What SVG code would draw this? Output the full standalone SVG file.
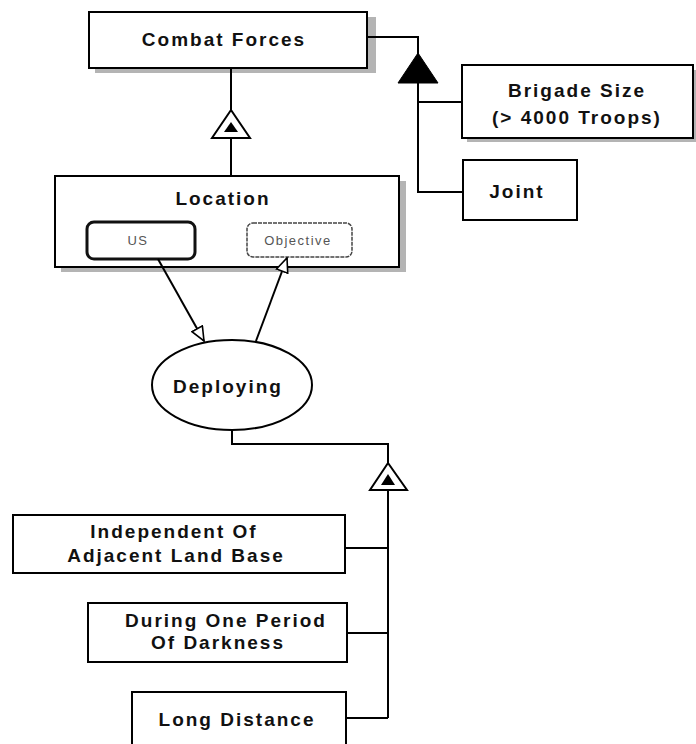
<svg xmlns="http://www.w3.org/2000/svg" width="696" height="744" viewBox="0 0 696 744">
<defs>
<style>
.box{fill:#fff;stroke:#000;stroke-width:2}
.shadow{fill:#b4b4b4}
.line{fill:none;stroke:#000;stroke-width:2}
.t{font-family:"Liberation Sans",Arial,sans-serif;font-size:19px;font-weight:bold;letter-spacing:2px;fill:#111;text-anchor:middle}
.s{font-family:"Liberation Sans",Arial,sans-serif;font-size:13px;letter-spacing:1.5px;fill:#555;text-anchor:middle}
.tri{fill:#fff;stroke:#000;stroke-width:2}
.in{fill:#000}
</style>
<marker id="hollow" viewBox="0 0 16 14" refX="15" refY="7" markerWidth="16" markerHeight="14" markerUnits="userSpaceOnUse" orient="auto">
<path d="M1,1 L15,7 L1,13 Z" fill="#fff" stroke="#000" stroke-width="1.6"/>
</marker>
</defs>
<rect width="696" height="744" fill="#fff"/>

<g id="combat-forces">
<rect class="shadow" x="95" y="17" width="281" height="56"/>
<rect class="box" x="89" y="12" width="278" height="56"/>
<text class="t" x="224" y="46">Combat Forces</text>
</g>

<g id="brigade-size">
<rect class="shadow" x="467" y="70" width="232" height="72"/>
<rect class="box" x="462" y="65" width="231" height="73"/>
<text class="t" x="577" y="97">Brigade Size</text>
<text class="t" x="577" y="124">(&gt; 4000 Troops)</text>
</g>

<g id="joint">
<rect class="box" x="463" y="160" width="114" height="60"/>
<text class="t" x="517" y="198">Joint</text>
</g>

<g id="location">
<rect class="shadow" x="61" y="181" width="345" height="91"/>
<rect class="box" x="55" y="176" width="344" height="91"/>
<text class="t" x="223" y="205">Location</text>
<g id="us">
<rect x="87" y="222" width="108" height="37" rx="7" fill="#fff" stroke="#111" stroke-width="3"/>
<text class="s" x="138" y="245">US</text>
</g>
<g id="objective">
<rect x="247" y="223" width="105" height="34" rx="6" fill="#fff" stroke="#444" stroke-width="1.5" stroke-dasharray="4 1"/>
<text class="s" x="298" y="245">Objective</text>
</g>
</g>

<g id="deploying">
<ellipse cx="232" cy="385" rx="80" ry="45" fill="#fff" stroke="#000" stroke-width="2"/>
<text class="t" x="228" y="393">Deploying</text>
</g>

<g id="independent">
<rect class="box" x="13" y="515" width="332" height="58"/>
<text class="t" x="174" y="538">Independent Of</text>
<text class="t" x="176" y="562">Adjacent Land Base</text>
</g>

<g id="during">
<rect class="box" x="88" y="603" width="259" height="59"/>
<text class="t" x="226" y="627">During One Period</text>
<text class="t" x="218" y="649">Of Darkness</text>
</g>

<g id="long-distance">
<rect class="box" x="132" y="692" width="214" height="60"/>
<text class="t" x="237" y="726">Long Distance</text>
</g>

<g id="connectors">
<!-- Combat Forces to Location -->
<path class="line" d="M231,69 V110 M231,138 V176"/>
<polygon class="tri" points="231,110 212,138 250,138"/>
<polygon class="in" points="231,122 224,132 238,132"/>
<!-- Combat Forces to Brigade / Joint -->
<path class="line" d="M368,37 H418 V192 H463 M418,102 H462"/>
<polygon fill="#000" stroke="#000" stroke-width="1" points="418,53 398,83 438,83"/>
<!-- US to Deploying -->
<line class="line" x1="158" y1="259" x2="204" y2="341" marker-end="url(#hollow)"/>
<!-- Deploying to Objective -->
<line class="line" x1="256" y1="341" x2="287" y2="258" marker-end="url(#hollow)"/>
<!-- Deploying to attributes -->
<path class="line" d="M232,430 V444 H388 V463 M388,490 V718 M345,548 H388 M347,633 H388 M346,718 H388"/>
<polygon class="tri" points="388,463 370,490 407,490"/>
<polygon class="in" points="388,474 381,485 395,485"/>
</g>
</svg>
